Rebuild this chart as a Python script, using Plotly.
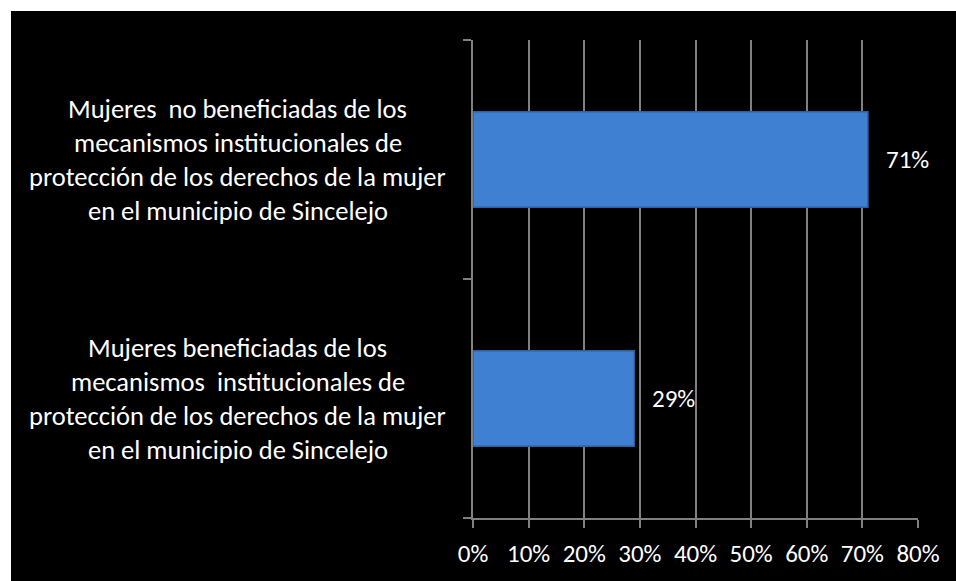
import plotly.graph_objects as go

# Data
categories = [
    "Mujeres beneficiadas",
    "Mujeres no beneficiadas",
]
category_lines = [
    ["Mujeres beneficiadas de los",
     "mecanismos  institucionales de",
     "protección de los derechos de la mujer",
     "en el municipio de Sincelejo"],
    ["Mujeres  no beneficiadas de los",
     "mecanismos institucionales de",
     "protección de los derechos de la mujer",
     "en el municipio de Sincelejo"],
]
values = [0.29, 0.71]
value_labels = ["29%", "71%"]
x_tickvals = [0, 0.1, 0.2, 0.3, 0.4, 0.5, 0.6, 0.7, 0.8]

W, H = 956, 581
L, R, T, B = 473, 38, 40, 61
pw, ph = W - L - R, H - T - B

FONT = "Carlito, Lato"
GRID = "#808080"

fig = go.Figure()
fig.add_trace(go.Bar(
    y=categories, x=values, orientation="h",
    marker=dict(color="#4080d2", line=dict(color="#2f609f", width=1.5)),
    hoverinfo="skip", showlegend=False,
))

annotations = []
for cat, lines in zip(categories, category_lines):
    n = len(lines)
    for i, line in enumerate(lines):
        annotations.append(dict(
            text=line, xref="paper", yref="y", x=(237.5 - L) / pw, y=cat,
            xanchor="center", yanchor="middle", showarrow=False,
            yshift=-(i - (n - 1) / 2) * 34,
            font=dict(family=FONT, size=26.5, color="white"),
        ))
for cat, v, lab in zip(categories, values, value_labels):
    annotations.append(dict(
        text=lab, xref="x", yref="y", x=v, y=cat, xanchor="left", yanchor="middle",
        xshift=16, showarrow=False,
        font=dict(family=FONT, size=25, color="white"),
    ))

fig.update_layout(
    width=W, height=H,
    margin=dict(l=L, r=R, t=T, b=B, pad=0),
    paper_bgcolor="white",
    plot_bgcolor="#404040",
    bargap=0.6,
    annotations=annotations,
    shapes=[dict(
        type="rect", xref="paper", yref="paper", layer="below",
        x0=(11 - L) / pw, x1=(W + 5 - L) / pw,
        y0=(ph - (H + 5 - T)) / ph, y1=(ph - (11 - T)) / ph,
        fillcolor="black", line=dict(width=0),
    )],
    xaxis=dict(
        range=[0, 0.8], tickvals=x_tickvals, tickformat=".0%",
        showgrid=True, gridcolor=GRID, gridwidth=2,
        showline=True, linecolor=GRID, linewidth=2,
        ticks="outside", ticklen=8, tickwidth=2, tickcolor=GRID,
        ticklabelstandoff=4,
        tickfont=dict(family=FONT, size=25, color="white"),
        zeroline=False, fixedrange=True,
    ),
    yaxis=dict(
        type="category", categoryorder="array", categoryarray=categories,
        showticklabels=False, tickson="boundaries",
        ticks="outside", ticklen=8, tickwidth=2, tickcolor=GRID,
        showline=True, linecolor=GRID, linewidth=2,
        showgrid=False, zeroline=False, fixedrange=True,
    ),
)

fig.write_html(
    "out.html",
    config=dict(displayModeBar=False),
    post_script="document.body.style.margin='0';document.body.style.overflow='hidden';",
)
